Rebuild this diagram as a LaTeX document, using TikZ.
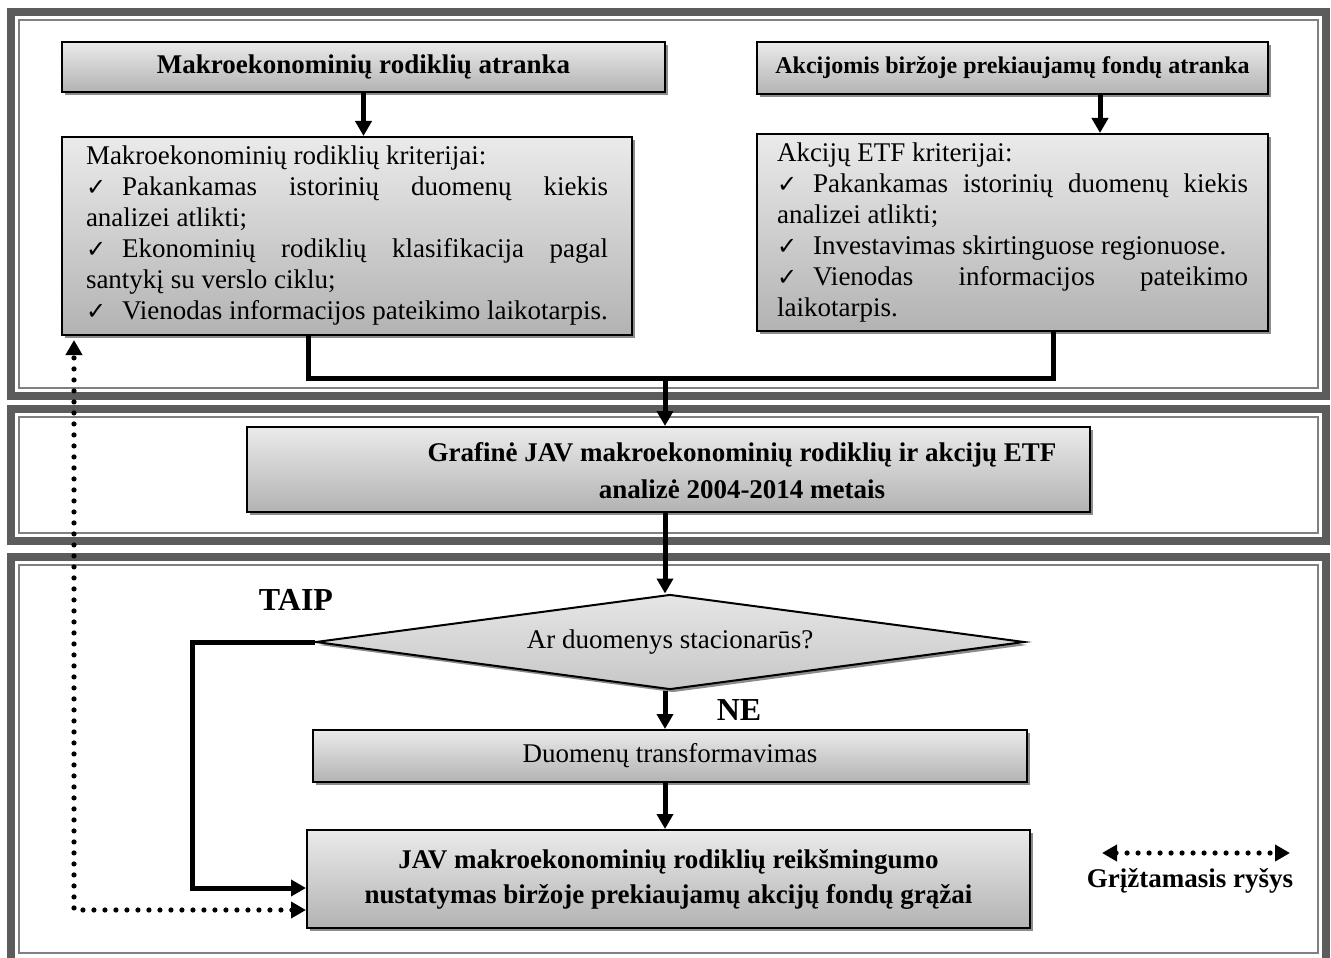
\documentclass[tikz,border=0pt]{standalone}
\usepackage{fontspec}
\setmainfont{Liberation Serif}
\newfontfamily\symfont{DejaVu Sans}
\usetikzlibrary{shapes.geometric,arrows.meta,shadows}
\setlength{\parindent}{0pt}
\hyphenpenalty=10000
\tolerance=9999
\newcommand{\chk}{{\symfont\fontsize{12}{12}\selectfont ✓}\hspace{8pt}}

\tikzset{
  panel/.style={draw=black!64, line width=4pt},
  panelline/.style={draw=black!50, line width=1pt},
  box/.style={draw, line width=1pt, top color=black!8, bottom color=black!30,
    drop shadow={shadow xshift=1.5pt, shadow yshift=-1.5pt, fill=black!45, opacity=1}},
  decision/.style={box, diamond, aspect=7.46, inner sep=0pt, top color=black!10, bottom color=black!22},
  bold/.style={font=\fontsize{13.5}{15.5}\selectfont\bfseries},
  arr/.style={line width=2.5pt, -{Triangle[length=7.5pt,width=8pt]}},
  link/.style={line width=2.5pt},
  fb/.style={line width=2.6pt, line cap=round, dash pattern=on 0pt off 5.5pt,
    {Triangle[length=7.5pt,width=8pt]}-{Triangle[length=7.5pt,width=8pt]}}
}

\begin{document}
\begin{tikzpicture}[x=0.5pt, y=-0.5pt, font=\fontsize{13.5}{15.5}\selectfont]
    \useasboundingbox (0,0) rectangle (1331,957);
    % panels
    \draw[panel] (11,12) rectangle (1326,396);
    \draw[panelline] (19,20) rectangle (1318,388);
    \draw[panel] (11,409) rectangle (1326,541);
    \draw[panelline] (19,417) rectangle (1318,533);
    \draw[panel] (11,557) rectangle (1326,962);
    \draw[panelline] (19,565) rectangle (1318,953);

    % selection
    \node[box, bold, minimum width=301.5pt, minimum height=25pt] (makro) at (363.5,67) {Makroekonominių rodiklių atranka};
    \node[box, font=\fontsize{12}{14}\selectfont\bfseries, minimum width=255.5pt, minimum height=26pt] (etfsel) at (1012.5,68) {Akcijomis biržoje prekiaujamų fondų atranka};
    \node[box, minimum width=285pt, minimum height=99pt, inner ysep=2pt, text width=261pt, align=justify] (crit) at (347,236) {Makroekonominių rodiklių kriterijai:\par
      \chk Pakankamas istorinių duomenų kiekis\linebreak analizei atlikti;\par
      \chk Ekonominių rodiklių klasifikacija pagal\linebreak santykį su verslo ciklu;\par
      \chk Vienodas informacijos pateikimo laikotarpis.};
    \node[box, minimum width=255.5pt, minimum height=98.5pt, inner ysep=2pt, text width=235.5pt, align=justify] (etfcrit) at (1012.5,232.5) {Akcijų ETF kriterijai:\par
      \chk Pakankamas istorinių duomenų kiekis\linebreak analizei atlikti;\par
      \chk Investavimas skirtinguose regionuose.\par
      \chk Vienodas informacijos pateikimo\linebreak laikotarpis.};

    % analysis
    \node[box, minimum width=421.5pt, minimum height=42.5pt] (graf) at (668.5,469.5) {};
    \node[font=\fontsize{13.5}{18.5}\selectfont\bfseries, align=center] (graftxt) at (742,471) {Grafinė JAV makroekonominių rodiklių ir akcijų ETF\\ analizė 2004-2014 metais};

    % testing
    \node[decision, minimum width=354.5pt, minimum height=47.5pt] (stat) at (670,642) {Ar duomenys stacionarūs?};
    \node[box, minimum width=357pt, minimum height=26pt] (transf) at (670,756) {Duomenų transformavimas};
    \node[box, font=\fontsize{13.5}{17.5}\selectfont\bfseries, align=center, minimum width=361.5pt, minimum height=49pt] (signif) at (668.5,879) {JAV makroekonominių rodiklių reikšmingumo\\ nustatymas biržoje prekiaujamų akcijų fondų grąžai};
    \node[font=\fontsize{16}{18}\selectfont\bfseries] (taip) at (296,600) {TAIP};
    \node[font=\fontsize{16}{18}\selectfont\bfseries] (ne) at (739,710) {NE};

    % legend
    \coordinate (fbl) at (1102,853);
    \coordinate (fbr) at (1290,853);
    \draw[fb] (fbl) -- (fbr);
    \node[bold] (fbtxt) at (1190,881) {Grįžtamasis ryšys};

    % connectors
    \coordinate (join) at (665,378);
    \draw[arr] (makro.south) -- (makro.south |- crit.north);
    \draw[arr] ([xshift=43.75pt]etfsel.south) -- ([xshift=43.75pt]etfsel.south |- etfcrit.north);
    \draw[link] ([xshift=-19.5pt]crit.south) |- (join) -| ([xshift=20.25pt]etfcrit.south);
    \draw[arr] (join) -- (join |- graf.north);
    \draw[arr] (join |- graf.south) -- (join |- stat.north);
    \draw[arr] (join |- stat.south) -- (join |- transf.north);
    \draw[arr] (join |- transf.south) -- (join |- signif.north);
    \draw[arr] (stat.west) -- ++(-122,0) |- ([yshift=-4.5pt]signif.west);
    \draw[fb] ([yshift=-15.5pt]signif.west) -| ([xshift=6.5pt,yshift=-2pt]crit.south west);
\end{tikzpicture}
\end{document}
